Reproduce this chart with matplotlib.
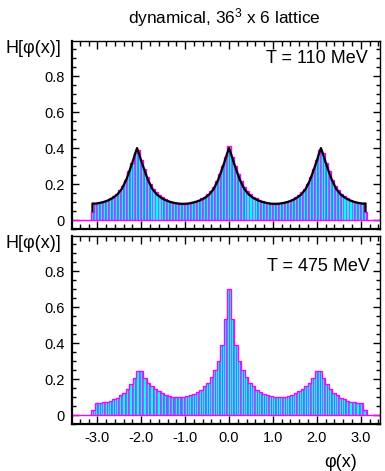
import numpy as np
import matplotlib
matplotlib.use("Agg")
import matplotlib.pyplot as plt
from matplotlib.ticker import MultipleLocator, FixedLocator

plt.rcParams['font.family'] = ['Liberation Sans', 'DejaVu Sans']
plt.rcParams['mathtext.fontset'] = 'custom'
plt.rcParams['mathtext.rm'] = 'Liberation Sans'
plt.rcParams['mathtext.it'] = 'Liberation Sans:italic'

# ---------------- data ----------------
title = "dynamical, 36$^{\\mathrm{3}}$ x 6 lattice"
labels_T = ["T = 110 MeV", "T = 475 MeV"]
xtick_vals = [-3, -2, -1, 0, 1, 2, 3]
xtick_labels = ["-3.0", "-2.0", "-1.0", "0.0", "1.0", "2.0", "3.0"]
ytick_vals = [0, 0.2, 0.4, 0.6, 0.8]
ytick_labels = ["0", "0.2", "0.4", "0.6", "0.8"]

# T = 110 MeV histogram (91 bins on [-pi, pi])
h_low = [0.045, 0.092, 0.095, 0.098, 0.104, 0.112, 0.122, 0.133, 0.147, 0.165,
         0.19, 0.225, 0.27, 0.315, 0.37, 0.39, 0.335, 0.285, 0.24, 0.20,
         0.175, 0.153, 0.139, 0.126, 0.116, 0.108, 0.101, 0.096, 0.093, 0.091,
         0.090, 0.091, 0.094, 0.098, 0.103, 0.112, 0.12, 0.13, 0.143, 0.16,
         0.185, 0.215, 0.255, 0.30, 0.35,
         0.41,
         0.35, 0.30, 0.255, 0.215, 0.185, 0.16, 0.143, 0.13, 0.12, 0.112,
         0.103, 0.098, 0.094, 0.091, 0.090, 0.091, 0.093, 0.096, 0.101, 0.108,
         0.116, 0.126, 0.139, 0.153, 0.175, 0.20, 0.24, 0.285, 0.335, 0.39,
         0.37, 0.315, 0.27, 0.225, 0.19, 0.165, 0.147, 0.133, 0.122, 0.112,
         0.104, 0.098, 0.095, 0.092, 0.045]

# T = 475 MeV histogram (79 bins on [-pi, pi])
h_high = [0.03, 0.068, 0.069, 0.071, 0.074, 0.08, 0.087, 0.097, 0.11, 0.125,
          0.145, 0.17, 0.205, 0.245, 0.245, 0.205, 0.18, 0.16, 0.145, 0.132,
          0.12, 0.112, 0.105, 0.101, 0.10, 0.10, 0.102, 0.105, 0.11, 0.118,
          0.128, 0.14, 0.16, 0.18, 0.21, 0.25, 0.30, 0.39, 0.535,
          0.70,
          0.535, 0.39, 0.30, 0.25, 0.21, 0.18, 0.16, 0.14, 0.128, 0.118,
          0.11, 0.105, 0.102, 0.10, 0.10, 0.101, 0.105, 0.112, 0.12, 0.132,
          0.145, 0.16, 0.18, 0.205, 0.245, 0.245, 0.205, 0.17, 0.145, 0.125,
          0.11, 0.097, 0.087, 0.08, 0.074, 0.071, 0.069, 0.068, 0.03]

# smooth (Haar-measure-like) curve for T = 110 MeV
curve_phi = [-3.11, -3.11, -3.044, -2.944, -2.844, -2.744, -2.644, -2.544, -2.444, -2.344,
             -2.294, -2.244, -2.194, -2.144, -2.119, -2.094, -2.069, -2.044, -1.994, -1.944,
             -1.894, -1.844, -1.744, -1.644, -1.544, -1.444, -1.344, -1.244, -1.144, -1.047,
             -0.95, -0.85, -0.75, -0.65, -0.55, -0.45, -0.35, -0.25, -0.2, -0.15,
             -0.1, -0.05, -0.025, 0.0,
             0.025, 0.05, 0.1, 0.15, 0.2, 0.25, 0.35, 0.45, 0.55, 0.65,
             0.75, 0.85, 0.95, 1.047, 1.144, 1.244, 1.344, 1.444, 1.544, 1.644,
             1.744, 1.844, 1.894, 1.944, 1.994, 2.044, 2.069, 2.094, 2.119, 2.144,
             2.194, 2.244, 2.294, 2.344, 2.444, 2.544, 2.644, 2.744, 2.844, 2.944,
             3.044, 3.11, 3.11]
curve_h = [0.05, 0.092, 0.091, 0.095, 0.101, 0.110, 0.123, 0.142, 0.172, 0.222,
           0.255, 0.29, 0.325, 0.365, 0.383, 0.40, 0.383, 0.365, 0.325, 0.29,
           0.255, 0.222, 0.172, 0.142, 0.123, 0.110, 0.101, 0.095, 0.091, 0.090,
           0.091, 0.095, 0.101, 0.110, 0.123, 0.142, 0.172, 0.222, 0.255, 0.29,
           0.325, 0.365, 0.383, 0.40,
           0.383, 0.365, 0.325, 0.29, 0.255, 0.222, 0.172, 0.142, 0.123, 0.110,
           0.101, 0.095, 0.091, 0.090, 0.091, 0.095, 0.101, 0.110, 0.123, 0.142,
           0.172, 0.222, 0.255, 0.29, 0.325, 0.365, 0.383, 0.40, 0.383, 0.365,
           0.325, 0.29, 0.255, 0.222, 0.172, 0.142, 0.123, 0.110, 0.101, 0.095,
           0.091, 0.092, 0.05]

# ---------------- style ----------------
FILL = '#00ffff'
STRIPE = '#5a6ef0'
EDGE = '#ff00ff'
XLIM = (-3.576, 3.43)
YLIM = (-0.05, 0.995)

fig = plt.figure(figsize=(3.85, 4.71), dpi=100)
ax1 = fig.add_axes([0.187, 0.5138, 0.799, 0.399])
ax2 = fig.add_axes([0.187, 0.0998, 0.799, 0.399])


def draw_hist(ax, h):
    h = np.asarray(h)
    n = len(h)
    edges = np.linspace(-np.pi, np.pi, n + 1)
    centers = 0.5 * (edges[:-1] + edges[1:])
    w = edges[1] - edges[0]
    ax.bar(centers, h, width=w, color=FILL, edgecolor=EDGE, linewidth=0.4, zorder=2)
    ax.bar(centers + 0.25 * w, h, width=0.3 * w, color=STRIPE, edgecolor='none', zorder=2.1)
    ax.axhline(0, color=EDGE, lw=1.0, zorder=2.5)
    ax.stairs(h, edges, color=EDGE, lw=1.0, baseline=0, zorder=2.6)


def style_axes(ax, show_xlabels):
    ax.set_xlim(*XLIM)
    ax.set_ylim(*YLIM)
    ax.xaxis.set_major_locator(FixedLocator(xtick_vals))
    ax.xaxis.set_minor_locator(MultipleLocator(0.2))
    ax.yaxis.set_major_locator(FixedLocator(ytick_vals))
    ax.yaxis.set_minor_locator(MultipleLocator(0.05))
    ax.set_yticklabels(ytick_labels)
    if show_xlabels:
        ax.set_xticklabels(xtick_labels)
    else:
        ax.set_xticklabels([])
    ax.tick_params(which='both', direction='in', top=True, right=True,
                   labelsize=10.5, colors='black')
    ax.tick_params(axis='x', which='major', length=5.5, width=1.0, pad=5)
    ax.tick_params(axis='x', which='minor', length=3.8, width=1.0)
    ax.tick_params(axis='y', which='major', length=5.0, width=1.0, pad=5)
    ax.tick_params(axis='y', which='minor', length=2.8, width=1.0)
    for s in ['left', 'bottom']:
        ax.spines[s].set_linewidth(1.6)
    for s in ['top', 'right']:
        ax.spines[s].set_linewidth(1.0)


draw_hist(ax1, h_low)
ax1.plot(curve_phi, curve_h, color='black', lw=1.6, zorder=3)
draw_hist(ax2, h_high)
style_axes(ax1, False)
style_axes(ax2, True)

fig.text(0.584, 0.962, title, ha='center', va='center', fontsize=12.4)
fig.text(0.956, 0.875, labels_T[0], ha='right', va='center', fontsize=13)
fig.text(0.961, 0.434, labels_T[1], ha='right', va='center', fontsize=13)
fig.text(0.013, 0.897, "H[φ(x)]", ha='left', va='center', fontsize=13)
fig.text(0.013, 0.484, "H[φ(x)]", ha='left', va='center', fontsize=13)
fig.text(0.927, 0.017, "φ(x)", ha='right', va='center', fontsize=13)

fig.savefig("out.png", dpi=100)
